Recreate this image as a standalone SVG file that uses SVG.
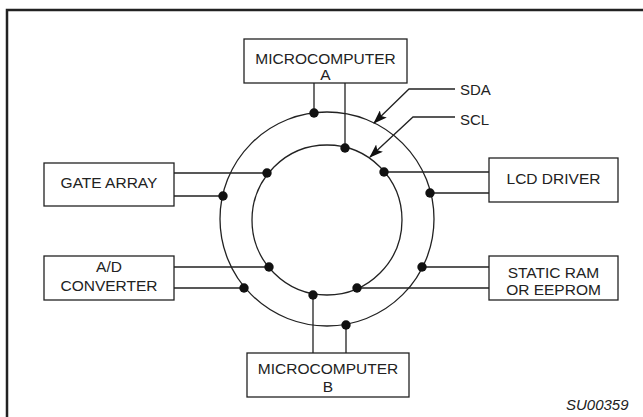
<svg xmlns="http://www.w3.org/2000/svg" width="643" height="417" viewBox="0 0 643 417">
<style>
.box{fill:#fff;stroke:#222;stroke-width:1.3}
.t{font-family:"Liberation Sans",Arial,sans-serif;font-size:15.5px;fill:#222;text-anchor:middle}
.lbl{font-family:"Liberation Sans",Arial,sans-serif;font-size:15px;fill:#222}
.ring{fill:none;stroke:#222;stroke-width:1.3}
.w{fill:none;stroke:#222;stroke-width:1.3}
.dot{fill:#111}
</style>
<defs>
<marker id="ah" viewBox="0 0 14 10" refX="13" refY="5" markerWidth="14" markerHeight="10" markerUnits="userSpaceOnUse" orient="auto">
<path d="M0,0 L14,5 L0,10 L3,5 Z" fill="#111"/>
</marker>
</defs>
<rect width="643" height="417" fill="#fff"/>
<path d="M7,417 V10 H643" fill="none" stroke="#222" stroke-width="2.5"/>
<g id="bus">
<circle class="ring" cx="327" cy="219" r="107"/>
<circle class="ring" cx="327" cy="220" r="75"/>
</g>
<g id="connectors">
<path class="w" d="M314,83 V113 M345,83 V148"/>
<path class="w" d="M174,173 H267 M174,196 H223"/>
<path class="w" d="M174,267 H269 M174,288 H244"/>
<path class="w" d="M489,172 H384 M489,193 H430"/>
<path class="w" d="M489,267 H422 M489,288 H357"/>
<path class="w" d="M313,353 V295 M346,353 V325"/>
<path class="w" d="M455,89 H409 L374,123" marker-end="url(#ah)"/>
<path class="w" d="M455,117 H413 L370,157" marker-end="url(#ah)"/>
<circle class="dot" cx="314" cy="113" r="4.7"/>
<circle class="dot" cx="345" cy="148" r="4.7"/>
<circle class="dot" cx="267" cy="173" r="4.7"/>
<circle class="dot" cx="223" cy="196" r="4.7"/>
<circle class="dot" cx="269" cy="267" r="4.7"/>
<circle class="dot" cx="244" cy="288" r="4.7"/>
<circle class="dot" cx="384" cy="172" r="4.7"/>
<circle class="dot" cx="430" cy="193" r="4.7"/>
<circle class="dot" cx="422" cy="267" r="4.7"/>
<circle class="dot" cx="357" cy="288" r="4.7"/>
<circle class="dot" cx="313" cy="295" r="4.7"/>
<circle class="dot" cx="346" cy="325" r="4.7"/>
</g>
<g id="microA">
<rect class="box" x="244" y="39" width="163" height="44"/>
<text class="t" x="325.5" y="63.5">MICROCOMPUTER</text>
<text class="t" x="325.5" y="80">A</text>
</g>
<g id="gateArray">
<rect class="box" x="44" y="163" width="130" height="43"/>
<text class="t" x="109" y="188">GATE ARRAY</text>
</g>
<g id="adConverter">
<rect class="box" x="44" y="256" width="130" height="44"/>
<text class="t" x="109" y="272">A/D</text>
<text class="t" x="109" y="291">CONVERTER</text>
</g>
<g id="lcdDriver">
<rect class="box" x="489" y="158" width="129" height="44"/>
<text class="t" x="553.5" y="184">LCD DRIVER</text>
</g>
<g id="staticRam">
<rect class="box" x="489" y="256" width="129" height="44"/>
<text class="t" x="553.5" y="278">STATIC RAM</text>
<text class="t" x="553.5" y="295">OR EEPROM</text>
</g>
<g id="microB">
<rect class="box" x="247" y="353" width="162" height="44"/>
<text class="t" x="328" y="374">MICROCOMPUTER</text>
<text class="t" x="328" y="392">B</text>
</g>
<g id="labels">
<text class="lbl" x="460" y="95">SDA</text>
<text class="lbl" x="460" y="125">SCL</text>
<text class="lbl" x="566" y="410" font-style="italic" font-size="14">SU00359</text>
</g>
</svg>
